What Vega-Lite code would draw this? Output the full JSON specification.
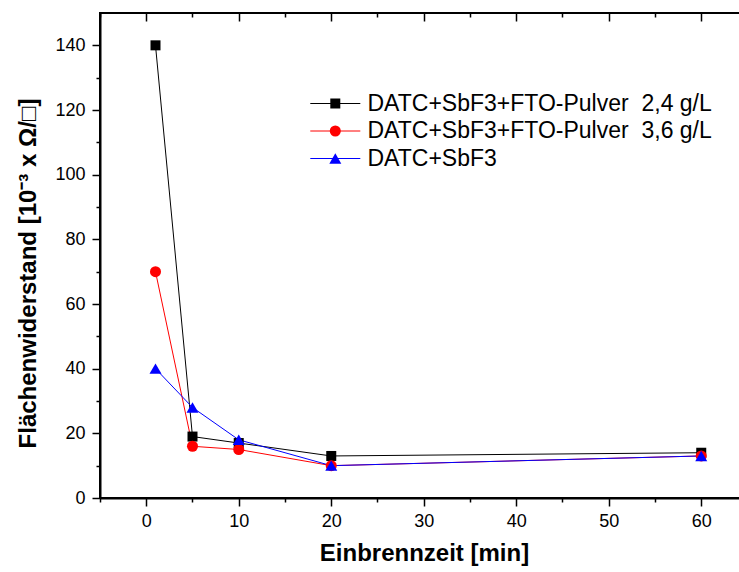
{
  "$schema": "https://vega.github.io/schema/vega-lite/v6.json",
  "width": 640,
  "height": 485,
  "autosize": {"type": "none"},
  "padding": {"left": 100, "top": 13, "right": 0, "bottom": 74},
  "background": "white",
  "config": {
    "view": {"stroke": "black", "strokeWidth": 2},
    "font": "Liberation Sans",
    "axis": {
      "grid": false,
      "domainColor": "black",
      "tickColor": "black",
      "labelColor": "black",
      "titleColor": "black",
      "labelFont": "Liberation Sans",
      "titleFont": "Liberation Sans",
      "labelFontSize": 18,
      "titleFontSize": 24,
      "titleFontWeight": "bold",
      "domainWidth": 2,
      "tickWidth": 1.5
    },
    "legend": {
      "labelFont": "Liberation Sans",
      "labelFontSize": 23,
      "labelColor": "black",
      "labelLimit": 1000
    }
  },
  "data": {
    "values": [
      {"t": 1, "r": 140, "s": "DATC+SbF3+FTO-Pulver\u00a0 2,4 g/L"},
      {"t": 5, "r": 19, "s": "DATC+SbF3+FTO-Pulver\u00a0 2,4 g/L"},
      {"t": 10, "r": 17, "s": "DATC+SbF3+FTO-Pulver\u00a0 2,4 g/L"},
      {"t": 20, "r": 13, "s": "DATC+SbF3+FTO-Pulver\u00a0 2,4 g/L"},
      {"t": 60, "r": 14, "s": "DATC+SbF3+FTO-Pulver\u00a0 2,4 g/L"},
      {"t": 1, "r": 70, "s": "DATC+SbF3+FTO-Pulver\u00a0 3,6 g/L"},
      {"t": 5, "r": 16, "s": "DATC+SbF3+FTO-Pulver\u00a0 3,6 g/L"},
      {"t": 10, "r": 15, "s": "DATC+SbF3+FTO-Pulver\u00a0 3,6 g/L"},
      {"t": 20, "r": 10, "s": "DATC+SbF3+FTO-Pulver\u00a0 3,6 g/L"},
      {"t": 60, "r": 13, "s": "DATC+SbF3+FTO-Pulver\u00a0 3,6 g/L"},
      {"t": 1, "r": 40, "s": "DATC+SbF3"},
      {"t": 5, "r": 28, "s": "DATC+SbF3"},
      {"t": 10, "r": 18, "s": "DATC+SbF3"},
      {"t": 20, "r": 10, "s": "DATC+SbF3"},
      {"t": 60, "r": 13, "s": "DATC+SbF3"}
    ]
  },
  "resolve": {"axis": {"x": "independent", "y": "independent"}},
  "layer": [
    {
      "mark": {"type": "line", "strokeWidth": 1},
      "encoding": {
        "x": {
          "field": "t",
          "type": "quantitative",
          "scale": {"domain": [-5, 64.19], "nice": false, "zero": false},
          "axis": {
            "orient": "bottom",
            "offset": 0,
            "values": [0, 10, 20, 30, 40, 50, 60],
            "tickSize": 8,
            "labelPadding": 6,
            "labelFlush": false,
            "labelOverlap": false,
            "title": "Einbrennzeit [min]",
            "titleX": 324,
            "titleY": 55,
            "titleAlign": "center",
            "titleBaseline": "middle"
          }
        },
        "y": {
          "field": "r",
          "type": "quantitative",
          "scale": {"domain": [0, 150], "nice": false, "zero": true},
          "axis": {
            "orient": "left",
            "offset": 0,
            "values": [0, 20, 40, 60, 80, 100, 120, 140],
            "tickSize": 8,
            "labelPadding": 7,
            "labelOverlap": false,
            "title": "Flächenwiderstand [10⁻³ x Ω/□]",
            "titleAngle": -90,
            "titleX": -72,
            "titleY": 260,
            "titleAlign": "center",
            "titleBaseline": "middle"
          }
        },
        "stroke": {
          "field": "s",
          "type": "nominal",
          "sort": ["DATC+SbF3+FTO-Pulver\u00a0 2,4 g/L", "DATC+SbF3+FTO-Pulver\u00a0 3,6 g/L", "DATC+SbF3"],
          "scale": {"range": ["#000000", "#ff0000", "#0000ff"]},
          "legend": {
            "orient": "none",
            "legendX": 223.8,
            "legendY": 79,
            "title": null,
            "padding": 0,
            "symbolType": "M-4.77,0H4.77",
            "symbolSize": 110,
            "symbolStrokeWidth": 1,
            "labelOffset": 20.7,
            "labelColor": "transparent",
            "rowPadding": 3.5
          }
        }
      }
    },
    {
      "mark": {"type": "point", "filled": true, "opacity": 1},
      "encoding": {
        "x": {
          "field": "t",
          "type": "quantitative",
          "axis": {
            "orient": "bottom",
            "offset": 0,
            "values": [-5, 5, 15, 25, 35, 45, 55],
            "tickSize": 4,
            "domain": false,
            "labels": false,
            "title": null
          }
        },
        "y": {
          "field": "r",
          "type": "quantitative",
          "axis": {
            "orient": "left",
            "offset": 0,
            "values": [10, 30, 50, 70, 90, 110, 130],
            "tickSize": 4,
            "domain": false,
            "labels": false,
            "title": null
          }
        },
        "color": {
          "field": "s",
          "type": "nominal",
          "scale": {
            "domain": ["DATC+SbF3+FTO-Pulver\u00a0 2,4 g/L", "DATC+SbF3+FTO-Pulver\u00a0 3,6 g/L", "DATC+SbF3"],
            "range": ["#000000", "#ff0000", "#0000ff"]
          },
          "legend": {
            "orient": "none",
            "legendX": 223.8,
            "legendY": 79,
            "title": null,
            "padding": 0,
            "symbolSize": 110,
            "labelOffset": 20.7,
            "rowPadding": 3.5
          }
        },
        "shape": {
          "field": "s",
          "type": "nominal",
          "scale": {
            "domain": ["DATC+SbF3+FTO-Pulver\u00a0 2,4 g/L", "DATC+SbF3+FTO-Pulver\u00a0 3,6 g/L", "DATC+SbF3"],
            "range": ["square", "circle", "triangle-up"]
          },
          "legend": {
            "orient": "none",
            "legendX": 223.8,
            "legendY": 79,
            "title": null,
            "padding": 0,
            "symbolSize": 110,
            "labelOffset": 20.7,
            "rowPadding": 3.5
          }
        },
        "size": {
          "field": "s",
          "type": "nominal",
          "scale": {
            "domain": ["DATC+SbF3+FTO-Pulver\u00a0 2,4 g/L", "DATC+SbF3+FTO-Pulver\u00a0 3,6 g/L", "DATC+SbF3"],
            "range": [100, 144, 170]
          },
          "legend": null
        }
      }
    },
    {
      "mark": {"type": "point", "opacity": 0},
      "encoding": {
        "x": {
          "field": "t",
          "type": "quantitative",
          "axis": {
            "orient": "top",
            "offset": -8,
            "values": [0, 10, 20, 30, 40, 50, 60],
            "tickSize": 8,
            "domain": false,
            "labels": false,
            "title": null
          }
        },
        "y": {"field": "r", "type": "quantitative", "axis": null}
      }
    },
    {
      "mark": {"type": "point", "opacity": 0},
      "encoding": {
        "x": {
          "field": "t",
          "type": "quantitative",
          "axis": {
            "orient": "top",
            "offset": -4,
            "values": [-5, 5, 15, 25, 35, 45, 55],
            "tickSize": 4,
            "domain": false,
            "labels": false,
            "title": null
          }
        },
        "y": {"field": "r", "type": "quantitative", "axis": null}
      }
    }
  ]
}
